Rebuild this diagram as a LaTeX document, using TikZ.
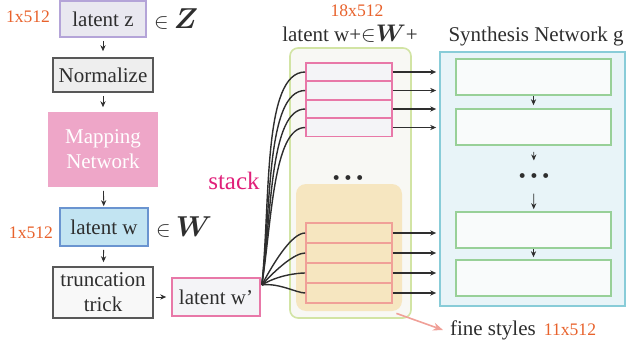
\documentclass[tikz,border=0pt]{standalone}
\usepackage{amsmath, amssymb}
\usepackage{fontspec}
\setmainfont{Liberation Serif}
\usetikzlibrary{positioning, calc, arrows.meta}
\definecolor{Ink}{HTML}{2E2E2E}
\definecolor{Dim}{HTML}{E8622C}
\definecolor{LavFill}{HTML}{E9E8F0}
\definecolor{LavLine}{HTML}{B4A4D8}
\definecolor{NormFill}{HTML}{EEEEEE}
\definecolor{MapPink}{HTML}{EEA6C8}
\definecolor{WFill}{HTML}{C2E4F2}
\definecolor{WLine}{HTML}{6A94D0}
\definecolor{TruncFill}{HTML}{F8F8F8}
\definecolor{WpFill}{HTML}{F4F4F7}
\definecolor{PinkLine}{HTML}{E878A8}
\definecolor{Stack}{HTML}{E0207A}
\definecolor{PlusFill}{HTML}{F8F8F4}
\definecolor{PlusLine}{HTML}{D2E4A4}
\definecolor{FineFill}{HTML}{F6E6C0}
\definecolor{Salmon}{HTML}{F0A098}
\definecolor{SynFill}{HTML}{E8F4F8}
\definecolor{SynLine}{HTML}{88CCD8}
\definecolor{BlockFill}{HTML}{F9FBFB}
\definecolor{BlockLine}{HTML}{98D098}
\tikzset{
    box/.style={rectangle, line width=0.8pt, text=Ink, align=center, inner sep=0pt},
    row/.style={rectangle, line width=0.8pt, minimum width=43pt},
    block/.style={rectangle, draw=BlockLine, fill=BlockFill, line width=0.8pt, minimum width=77.5pt, minimum height=18pt},
    dim/.style={text=Dim, font=\fontsize{8.8pt}{10pt}\selectfont},
    dots/.style={text=Ink, font=\tiny},
    arrow/.style={-{Stealth[length=3pt, width=2.6pt]}, thin, color=Ink},
    fan/.style={line width=0.7pt, color=Ink},
}

\begin{document}
\begin{tikzpicture}[x=0.5pt, y=0.5pt, font=\fontsize{10.5pt}{12.4pt}\selectfont]
                \useasboundingbox (0,0) rectangle (627,349);

                % Mapping
                \node[box, draw=LavLine, fill=LavFill, minimum width=43pt, minimum height=18pt] (latent_z) at (103,330) {latent z};
                \node[box, draw=Ink!80, fill=NormFill, minimum width=50pt, minimum height=17pt] (norm) at (103,274) {Normalize};
                \node[box, fill=MapPink, text=white, minimum width=55pt, minimum height=37.5pt] (mapping) at (103,199.5) {Mapping\\Network};
                \node[box, draw=WLine, fill=WFill, minimum width=44pt, minimum height=19pt] (latent_w) at (104,122) {latent w};
                \node[box, draw=Ink!80, fill=TruncFill, minimum width=50pt, minimum height=25.5pt] (trunc) at (103,56.5) {truncation\\trick};
                \node[box, draw=PinkLine, fill=WpFill, minimum width=44pt, minimum height=19pt] (latent_wp) at (216,52) {latent w'};

                \node[dim] (dim_z) at (28,332) {1x512};
                \node[anchor=west, text=Ink] (set_z) at (147,330) {$\in$ {\Large$\boldsymbol{Z}$}};
                \node[dim] (dim_w) at (31,116) {1x512};
                \node[anchor=west, text=Ink] (set_w) at (149,122) {$\in$ {\Large$\boldsymbol{W}$}};

                \draw[arrow, shorten <=1.5pt, shorten >=3pt] (latent_z) -- (norm);
                \draw[arrow, shorten <=1.5pt, shorten >=2pt] (norm) -- (mapping);
                \draw[arrow, shorten <=1.5pt, shorten >=0.5pt] (mapping) -- (latent_w);
                \draw[arrow, shorten <=1.5pt, shorten >=2pt] (latent_w) -- (trunc);
                \draw[arrow, shorten <=1pt, shorten >=2.5pt] (trunc.east |- latent_wp) -- (latent_wp);

                % W+ (stacked styles)
                \node[rectangle, rounded corners=4pt, draw=PlusLine, fill=PlusFill, line width=0.8pt, minimum width=60.5pt, minimum height=135pt] (wplus) at (350.5,166) {};
                \node[rectangle, rounded corners=5pt, fill=FineFill, minimum width=53pt, minimum height=63.5pt] (fine) at (349,101.5) {};
                \node[dim] (dim_plus) at (357,338) {18x512};
                \node[text=Ink] (lab_plus) at (350,315) {latent w+$\in${\large$\boldsymbol{W}$}+};
                \node[dots] (dots_plus) at (348,171) {$\bullet$\;\,$\bullet$\;\,$\bullet$};
                \node[text=Stack, font=\fontsize{12.5pt}{15pt}\selectfont] (stack) at (234,168) {stack};

                \foreach \n/\y in {t1/277, t2/258.5, t3/240, t4/221.5}
                    \node[row, draw=PinkLine, fill=WpFill, minimum height=9pt] (\n) at (349,\y) {};
                \foreach \n/\y in {b1/116, b2/96, b3/76, b4/56}
                    \node[row, draw=Salmon, minimum height=10pt] (\n) at (349,\y) {};

                % Synthesis
                \node[rectangle, draw=SynLine, fill=SynFill, line width=0.8pt, minimum width=92.5pt, minimum height=127pt] (synth) at (532.5,170) {};
                \node[text=Ink] (lab_synth) at (536,313) {Synthesis Network g};
                \node[block] (g1) at (533.5,272) {};
                \node[block] (g2) at (533.5,222) {};
                \node[dots] (dots_synth) at (534,173) {$\bullet$\;\,$\bullet$\;\,$\bullet$};
                \node[block] (g3) at (533.5,119) {};
                \node[block] (g4) at (533.5,71) {};
                \draw[arrow, shorten >=1.5pt] (g1) -- (g2);
                \draw[arrow, shorten <=3pt, shorten >=3pt] (g2) -- (dots_synth);
                \draw[arrow, shorten <=4pt, shorten >=1pt] (dots_synth) -- (g3);
                \draw[arrow, shorten >=1pt] (g3) -- (g4);

                % Connections
                \coordinate (fan_pt) at ($(latent_wp.east)+(1,12)$);
                \foreach \n/\a in {t1/84, t2/83, t3/82, t4/81, b1/62, b2/48, b3/32, b4/8}
                    \draw[fan] (fan_pt) to[out=\a, in=180, in looseness=0.5] (\n.west);
                \foreach \n in {t1, t2, t3, t4, b1, b2, b3, b4}
                    \draw[arrow, line width=0.7pt, shorten >=1.5pt] (\n.east) -- (\n.east -| synth.west);

                % Fine styles
                \node[anchor=west, text=Ink] (lab_fine) at (443,19) {fine styles};
                \node[dim, right=-3pt of lab_fine] (dim_fine) {11x512};
                \draw[-{Stealth[length=5pt, width=4pt]}, Salmon, line width=0.8pt] ($(fine.south east)+(-6,-2)$) -- (lab_fine.west);
\end{tikzpicture}
\end{document}
